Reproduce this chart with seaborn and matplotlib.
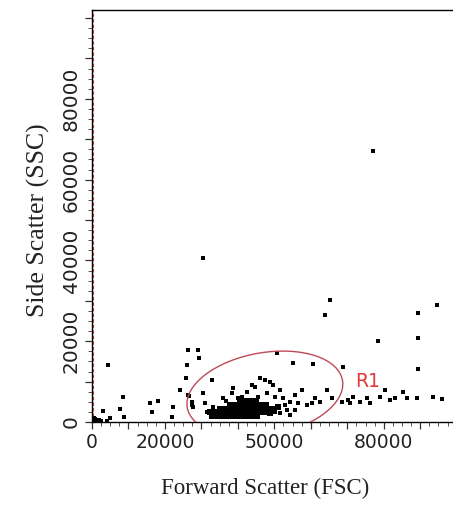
import numpy as np
import pandas as pd
import matplotlib
matplotlib.use("Agg")
import matplotlib.pyplot as plt
import seaborn as sns
from matplotlib.patches import Ellipse
from matplotlib.ticker import MultipleLocator, FuncFormatter

# ---------------- data ----------------
# sparse events
sparse_fsc = [300, 800, 1400, 1900, 550, 2500, 4900, 4100, 3000,
              4400, 8500, 7700, 8800, 15900, 18100, 16400, 21900, 22200,
              24100, 26000, 26300, 29300, 25800, 26600, 27400, 29000,
              77000, 65200, 63800, 94500, 89300, 30400, 78400, 89300, 89300,
              50700, 55100, 60600, 68800,
              70100, 71500, 73400, 75400, 78900, 81700, 85200, 86300, 89100,
              76200, 70700, 80300, 93400, 95900, 83000,
              26300, 27400, 27700, 30400, 31000, 32900, 33200, 31500, 35900,
              38400, 38600, 41100, 42500, 43800, 44700, 46000, 47400, 48800,
              49600, 48000, 50100, 51500, 52300, 54300, 55600, 56400, 57500,
              58900, 60300, 61100, 62500, 64400, 65800, 68500, 50700, 53400,
              55600, 48800, 51500, 54300, 36800, 39900, 45600, 52800]
sparse_ssc = [500, 750, 250, 500, 1000, 250, 1000, 250, 2700,
              14100, 6200, 3200, 1200, 4700, 5200, 2500, 1200, 3700,
              7900, 14100, 17800, 15800, 10900, 6400, 4200, 17800,
              67200, 30100, 26400, 28900, 26900, 40500, 20000, 20700, 13100,
              17000, 14600, 14300, 13600,
              5400, 6200, 4900, 5900, 6200, 5400, 7400, 5900, 5900,
              4700, 4700, 7900, 6200, 5700, 5900,
              6700, 4900, 3700, 7200, 4700, 10400, 3700, 2500, 5900,
              7200, 8400, 6200, 7400, 9100, 8600, 10900, 10400, 9900,
              9100, 7200, 6200, 7900, 5900, 4900, 6700, 4700, 7900,
              4200, 4700, 5900, 4900, 7900, 5900, 4900, 3700, 3000,
              3000, 2500, 2200, 1700, 5100, 6000, 6300, 4300]

# dense core population
core_fsc = [33000, 34200, 35300, 36400, 37500, 38600, 39700, 40800, 41900, 43000, 44100, 45200,
            32300, 33400, 34500, 35600, 36700, 37800, 38900, 40000, 41100, 42200, 43300, 44400, 45500, 46600, 47700,
            35000, 36100, 37200, 38300, 39400, 40500, 41600, 42700, 43800, 44900, 46000, 47100, 48200, 49300,
            37800, 38900, 40000, 41100, 42200, 43300, 44400, 45500, 46600, 47700,
            40500, 41600, 42700, 43800, 44900,
            48800, 50000, 51100]
core_ssc = ([1500] * 12 + [2400] * 15 + [3300] * 14 + [4200] * 10 + [5100] * 5
            + [2200, 2800, 3600])

x_tick_labels = [0, 20000, 50000, 80000]
y_tick_labels = [0, 20000, 40000, 60000, 80000]

gate_name = "R1"

# ---------------- figure ----------------
sns.set_style("ticks")
plt.rcParams['font.family'] = ['DejaVu Sans']

fig = plt.figure(figsize=(4.53, 5.05), dpi=100)
ax = fig.add_axes([92 / 453, 83 / 505, 372 / 453, 412 / 505])

df_sparse = pd.DataFrame({"FSC": sparse_fsc, "SSC": sparse_ssc})
df_core = pd.DataFrame({"FSC": core_fsc, "SSC": core_ssc})

sns.scatterplot(data=df_sparse, x="FSC", y="SSC", marker="s", s=5,
                color="black", linewidth=0, ax=ax, zorder=3)
sns.scatterplot(data=df_core, x="FSC", y="SSC", marker="s", s=18,
                color="black", linewidth=0, ax=ax, zorder=3)

ax.set_xlim(0, 102000)
ax.set_ylim(0, 102000)

# threshold line and gate
ax.axvline(400, color="#d04848", lw=0.8, ls=(0, (3, 2)), zorder=2)
ell = Ellipse((47400, 6930), width=43100, height=20500, angle=8.5,
              fill=False, edgecolor="#c04858", lw=1.0, zorder=4)
ax.add_patch(ell)
ax.text(75600, 10100, gate_name, color="#e03a3a", fontsize=13.5,
        ha="center", va="center", zorder=5)

# spines
ax.spines["right"].set_visible(False)
for s in ["left", "bottom", "top"]:
    ax.spines[s].set_linewidth(1.0)
    ax.spines[s].set_color("black")

# ticks
ax.xaxis.set_major_locator(MultipleLocator(10000))
ax.xaxis.set_minor_locator(MultipleLocator(2500))
ax.yaxis.set_major_locator(MultipleLocator(10000))
ax.yaxis.set_minor_locator(MultipleLocator(2500))
ax.xaxis.set_major_formatter(FuncFormatter(
    lambda v, p: f"{int(round(v))}" if int(round(v)) in x_tick_labels else ""))
ax.yaxis.set_major_formatter(FuncFormatter(
    lambda v, p: f"{int(round(v))}" if int(round(v)) in y_tick_labels else ""))
ax.tick_params(which="major", direction="out", length=5, width=0.9,
               color="#333333", top=False, right=False)
ax.tick_params(which="minor", direction="out", length=3, width=0.7,
               color="#555555", top=False, right=False)
ax.tick_params(axis="x", labelsize=13.5, pad=3, labelcolor="#222222")
ax.tick_params(axis="y", labelsize=14.5, pad=3, labelcolor="#222222")
for lab in ax.get_yticklabels():
    lab.set_rotation(90)
    lab.set_va("center")

ax.set_xlabel("Forward Scatter (FSC)", family=["Liberation Serif"],
              fontsize=16.5, color="#222222")
ax.set_ylabel("Side Scatter (SSC)", family=["Liberation Serif"],
              fontsize=18.5, color="#222222")
ax.xaxis.set_label_coords(0.465, -0.135)
ax.yaxis.set_label_coords(-0.113, 0.49)

fig.savefig("out.png", dpi=100)
